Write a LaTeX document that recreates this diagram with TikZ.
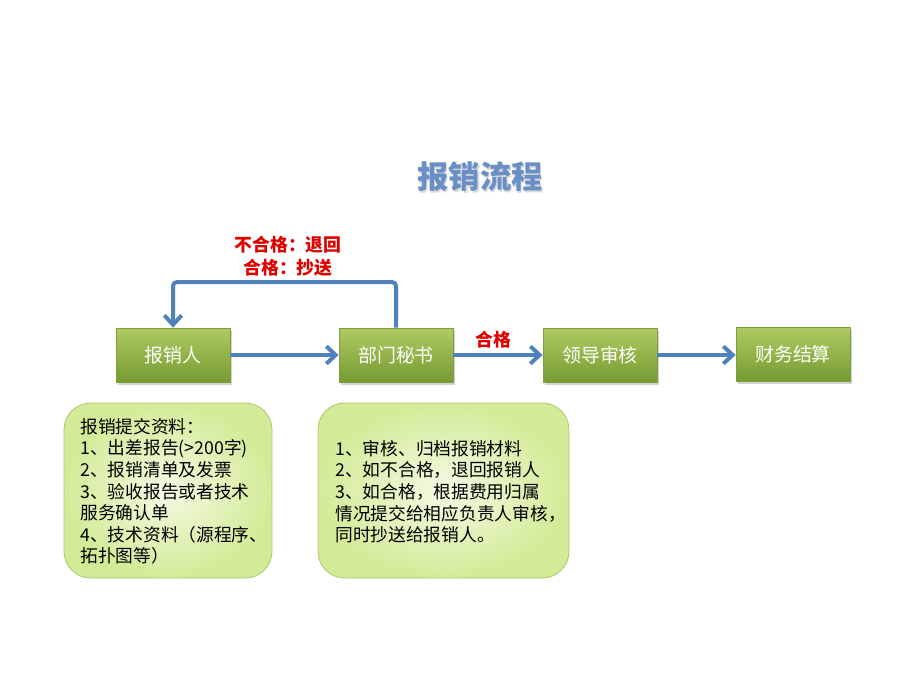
\documentclass[tikz,border=0pt]{standalone}
\usepackage{fontspec}
\setmainfont{Noto Sans CJK SC}
\usetikzlibrary{shadows,arrows.meta}
\definecolor{gtop}{HTML}{AFCB62}
\definecolor{gbot}{HTML}{779A32}
\definecolor{gedge}{HTML}{7F9F3A}
\definecolor{arrowblue}{HTML}{4F81BD}
\definecolor{titleblue}{HTML}{6A8FC6}
\definecolor{noteedge}{HTML}{A9C96A}
\definecolor{notein}{HTML}{F4FAE4}
\definecolor{noteout}{HTML}{D3EB97}
\definecolor{labred}{HTML}{E00000}
\tikzset{
  stepbox/.style={draw=gedge, line width=0.6pt, top color=gtop, bottom color=gbot,
    minimum width=114*0.75pt, minimum height=54*0.75pt, inner sep=0pt,
    text=white, font=\fontsize{14.2}{16}\selectfont,
    drop shadow={opacity=0.35, shadow xshift=1.5pt, shadow yshift=-2pt}},
  notebox/.style={draw=noteedge, line width=0.6pt, rounded corners=20pt,
    inner color=notein, outer color=noteout},
  notetext/.style={anchor=north west, align=left, inner sep=0pt,
    font=\fontsize{13.3}{16.2}\selectfont},
  flow/.style={draw=arrowblue, line width=3pt, -{Straight Barb[length=7pt,width=13pt,line width=3pt]}},
  redlab/.style={text=labred, font=\fontsize{13.4}{17}\selectfont\bfseries, align=center}
}
\begin{document}
\begin{tikzpicture}[x=0.75pt,y=-0.75pt]
\useasboundingbox (0,0) rectangle (920,690);
% title
\node[text=black!15, font=\fontsize{23.5}{27}\selectfont\bfseries] (titleshadow) at (481.5,178.5) {报销流程};
\node[text=titleblue, font=\fontsize{23.5}{27}\selectfont\bfseries] (title) at (480,177) {报销流程};
% step boxes
\node[stepbox] (a) at (173,355) {报销人};
\node[stepbox] (b) at (396,355) {部门秘书};
\node[stepbox] (c) at (600,355) {领导审核};
\node[stepbox] (d) at (793,354) {财务结算};
% arrows
\draw[flow] (a.east) -- (b.west);
\draw[flow] (b.east) -- (c.west);
\draw[flow] (c.east) -- (d.west |- c.east);
\coordinate (up1) at (396,282);
\coordinate (up2) at (173,282);
\draw[flow, rounded corners=3pt] (b.north) -- (up1) -- (up2) -- (a.north);
% labels
\node[redlab] (lab1) at (288,245) {不合格：退回};
\node[redlab] (lab2) at (288,268) {合格：抄送};
\node[redlab] (lab3) at (493,340) {合格};
% note boxes
\draw[notebox] (64,403) rectangle (272,578);
\draw[notebox] (318,403) rectangle (569,578);
\node[notetext] (n1) at (80,418) {报销提交资料：\\1、出差报告(>200字)\\2、报销清单及发票\\3、验收报告或者技术\\服务确认单\\4、技术资料（源程序、\\拓扑图等）};
\node[notetext] (n2) at (335,440) {1、审核、归档报销材料\\2、如不合格，退回报销人\\3、如合格，根据费用归属\\情况提交给相应负责人审核，\\同时抄送给报销人。};
\end{tikzpicture}
\end{document}
